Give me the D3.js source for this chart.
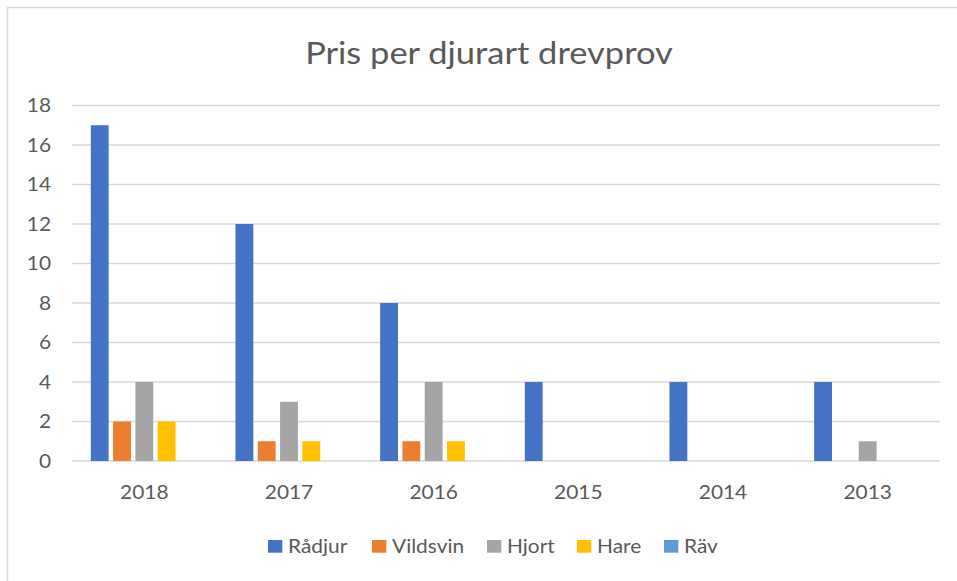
<!DOCTYPE html>
<html>
<head>
<meta charset="utf-8">
<script src="https://cdn.jsdelivr.net/npm/d3@7"></script>
<style>
  body { margin: 0; background: #fff; }
  svg { display: block; }
</style>
</head>
<body>
<svg id="chart" width="957" height="581"></svg>
<script>
// data
const years = ['2018', '2017', '2016', '2015', '2014', '2013']
const species = ['Rådjur', 'Vildsvin', 'Hjort', 'Hare', 'Räv']
const radjur = [17, 12, 8, 4, 4, 4]
const vildsvin = [2, 1, 1, 0, 0, 0]
const hjort = [4, 3, 4, 0, 0, 1]
const hare = [2, 1, 1, 0, 0, 0]
const rav = [0, 0, 0, 0, 0, 0]
const yTicks = [0, 2, 4, 6, 8, 10, 12, 14, 16, 18]
const colors = ['#4472C4', '#ED7D31', '#A5A5A5', '#FFC000', '#5B9BD5']

const seriesValues = [radjur, vildsvin, hjort, hare, rav]
const font = 'Lato, "Open Sans", sans-serif'
const textColor = '#595959'
const stretch = 1.13 // the picture is a bit wider than tall

const svg = d3.select('#chart')

// chart frame (only top/left visible in the crop)
svg.append('rect')
    .attr('x', 7.5).attr('y', 7.5)
    .attr('width', 1000).attr('height', 1000)
    .attr('fill', 'none')
    .attr('stroke', '#d9d9d9')
    .attr('stroke-width', 1.5)

const plotLeft = 72, plotRight = 940, plotTop = 105.5, plotBottom = 461

const x0 = d3.scaleBand()
    .domain(years)
    .range([plotLeft, plotRight])
    .paddingInner(0.26)
    .paddingOuter(0.13)

const x1 = d3.scaleBand()
    .domain(species)
    .range([0, x0.bandwidth()])
    .paddingInner(0.2)

const y = d3.scaleLinear()
    .domain([0, 18])
    .range([plotBottom, plotTop])

// gridlines
svg.append('g')
    .selectAll('line')
    .data(yTicks)
    .join('line')
    .attr('x1', plotLeft).attr('x2', plotRight)
    .attr('y1', d => y(d)).attr('y2', d => y(d))
    .attr('stroke', '#d9d9d9')
    .attr('stroke-width', 1.5)

// y labels
svg.append('g')
    .selectAll('text')
    .data(yTicks)
    .join('text')
    .attr('transform', d => `translate(51,${y(d)}) scale(${stretch},1)`)
    .attr('dy', '0.36em')
    .attr('text-anchor', 'end')
    .attr('font-family', font)
    .attr('font-size', 18.5)
    .attr('fill', textColor)
    .text(d => d)

// bars
const rows = years.map((yr, i) => ({ year: yr, vals: species.map((s, j) => ({ key: s, value: seriesValues[j][i], color: colors[j] })) }))

svg.append('g')
    .selectAll('g')
    .data(rows)
    .join('g')
    .attr('transform', d => `translate(${x0(d.year)},0)`)
    .selectAll('rect')
    .data(d => d.vals.filter(v => v.value > 0))
    .join('rect')
    .attr('x', d => x1(d.key))
    .attr('width', x1.bandwidth())
    .attr('y', d => y(d.value))
    .attr('height', d => y(0) - y(d.value))
    .attr('fill', d => d.color)

// x labels
svg.append('g')
    .selectAll('text')
    .data(years)
    .join('text')
    .attr('transform', d => `translate(${x0(d) + x0.bandwidth() / 2},499) scale(${stretch},1)`)
    .attr('text-anchor', 'middle')
    .attr('font-family', font)
    .attr('font-size', 18.5)
    .attr('fill', textColor)
    .text(d => d)

// title
svg.append('text')
    .attr('transform', `translate(489,64) scale(${stretch},1)`)
    .attr('text-anchor', 'middle')
    .attr('font-family', font)
    .attr('font-size', 30.5)
    .attr('fill', textColor)
    .text('Pris per djurart drevprov')

// legend
const legendX = [268, 372, 487, 577, 664]
const legend = svg.append('g')
    .selectAll('g')
    .data(species)
    .join('g')
    .attr('transform', (d, i) => `translate(${legendX[i]},540)`)

legend.append('rect')
    .attr('width', 14.3).attr('height', 12.7)
    .attr('fill', (d, i) => colors[i])

legend.append('text')
    .attr('transform', `translate(20,13) scale(${stretch},1)`)
    .attr('font-family', font)
    .attr('font-size', 18.5)
    .attr('fill', textColor)
    .text(d => d)
</script>
</body>
</html>
